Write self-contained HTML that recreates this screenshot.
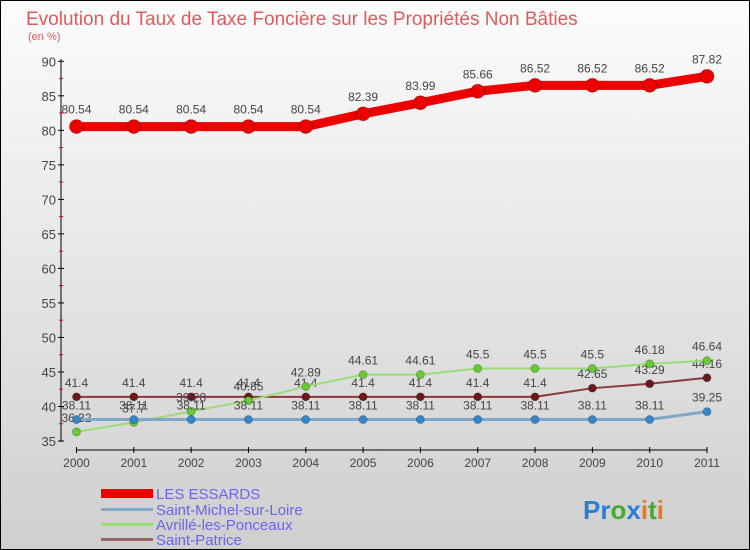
<!DOCTYPE html>
<html><head><meta charset="utf-8"><style>
body{margin:0}
#c{width:750px;height:550px;position:relative;box-sizing:border-box;border:1px solid #000;background:linear-gradient(#fcfcfc,#cfcfcf);font-family:"Liberation Sans",sans-serif;overflow:hidden}
</style></head><body>
<div id="c">
<svg width="750" height="550" style="position:absolute;left:0;top:0" id="svg">
<text x="25" y="24" font-size="19" fill="#e05a5a">Evolution du Taux de Taxe Foncière sur les Propriétés Non Bâties</text>
<text x="27" y="39" font-size="11" fill="#e05a5a">(en %)</text>
<g id="axes"></g><g id="series"></g>
<g font-size="15" fill="#6666ee">
<rect x="100" y="488" width="52" height="9" fill="#ee0000"/>
<text x="155" y="498">LES ESSARDS</text>
<rect x="100" y="507" width="52" height="3" fill="#7fa8c8"/>
<text x="155" y="514">Saint-Michel-sur-Loire</text>
<rect x="100" y="522" width="52" height="3" fill="#99dd77"/>
<text x="155" y="529">Avrillé-les-Ponceaux</text>
<rect x="100" y="537" width="52" height="3" fill="#996666"/>
<text x="155" y="544">Saint-Patrice</text>
</g>
<text x="582" y="518" font-size="26" font-weight="bold"><tspan fill="#2a7fd0">Pr</tspan><tspan fill="#44aa33">o</tspan><tspan fill="#2a7fd0">x</tspan><tspan fill="#ee7711">i</tspan><tspan fill="#44aa33">t</tspan><tspan fill="#ee7711">i</tspan></text>
</svg>
</div>
<script>
const years=[2000,2001,2002,2003,2004,2005,2006,2007,2008,2009,2010,2011];
const essards=[80.54,80.54,80.54,80.54,80.54,82.39,83.99,85.66,86.52,86.52,86.52,87.82];
const michel=[38.11,38.11,38.11,38.11,38.11,38.11,38.11,38.11,38.11,38.11,38.11,39.25];
const avrille=[36.32,37.7,39.28,40.85,42.89,44.61,44.61,45.5,45.5,45.5,46.18,46.64];
const patrice=[41.4,41.4,41.4,41.4,41.4,41.4,41.4,41.4,41.4,42.65,43.29,44.16];
const yTicks=[35,40,45,50,55,60,65,70,75,80,85,90];
const NS="http://www.w3.org/2000/svg";
const x=i=>75.5+i*(706-75.5)/(years.length-1);
const y=v=>440-(v-35)*(440-60.3)/55;
function mk(tag,attrs,parent){const e=document.createElementNS(NS,tag);for(const k in attrs)e.setAttribute(k,attrs[k]);parent.appendChild(e);return e;}
const ax=document.getElementById('axes');
let l=mk('line',{x1:60,y1:58,x2:60,y2:441,stroke:'#000'},ax);


l=mk('line',{x1:75,y1:449,x2:706,y2:449,stroke:'#000'},ax);


yTicks.forEach((t,i)=>{
 mk('line',{x1:57,x2:63,y1:y(t),y2:y(t),stroke:'#000'},ax);
 if(i<yTicks.length-1)mk('line',{x1:58,x2:62,y1:y(t+2.5),y2:y(t+2.5),stroke:'#e00'},ax);
 const tx=mk('text',{x:55,y:y(t)+5,'text-anchor':'end','font-size':13,fill:'#444'},ax);
 tx.textContent=t;
 
 
});
years.forEach((yr,i)=>{
 mk('line',{x1:x(i),x2:x(i),y1:446,y2:452,stroke:'#000'},ax);
 const tx=mk('text',{x:x(i),y:466,'text-anchor':'middle','font-size':12,fill:'#444'},ax);
 tx.textContent=yr;
 
 
});
const sg=document.getElementById('series');
function series(name,vals,color,dot,lw,r){
 const g=mk('g',{},sg);
 
 
 const p=mk('polyline',{points:vals.map((v,i)=>x(i)+','+y(v)).join(' '),fill:'none',stroke:color,'stroke-width':lw},g);
 
 
 vals.forEach((v,i)=>{
  const c=mk('circle',{cx:x(i),cy:y(v),r:r,fill:dot,stroke:'rgba(0,0,0,0.25)'},g);
  
  
  const t=mk('text',{x:x(i),y:y(v)-(r+6),'text-anchor':'middle','font-size':12,fill:'#444'},g);
  t.textContent=v;
  
  
 });
}
series('saint-patrice',patrice,'#8a3a3a','#6a1a1a',2,4);
series('avrille',avrille,'#99dd77','#66cc33',2,4);
series('saint-michel',michel,'#7fa8c8','#3388cc',3,4);
series('les-essards',essards,'#ee0000','#ee0000',9,7);
</script>
</body></html>
